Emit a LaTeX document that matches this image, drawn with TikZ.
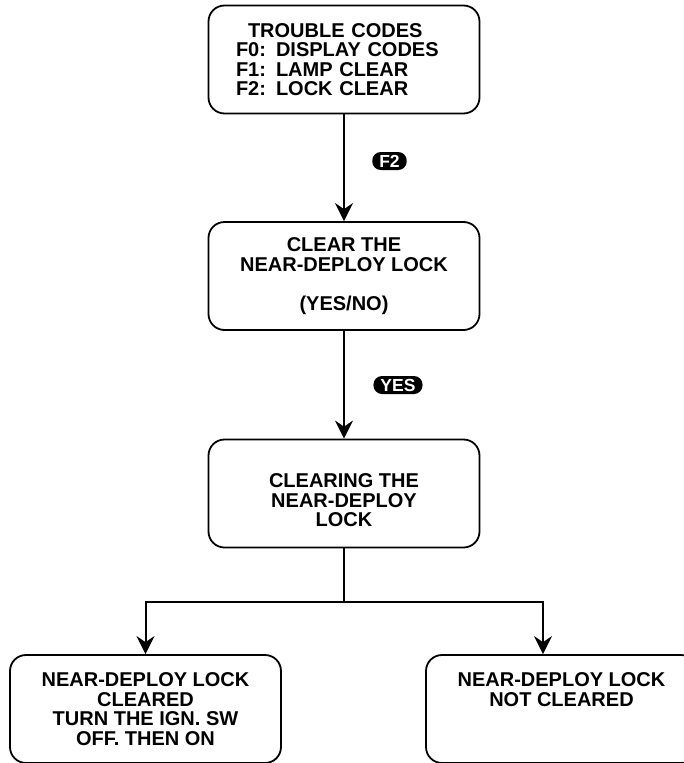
\documentclass[tikz,border=0pt]{standalone}
\usepackage{fontspec}
\setmainfont{Liberation Sans}
\usetikzlibrary{arrows.meta,positioning}

\begin{document}
\begin{tikzpicture}[x=1pt,y=-1pt,
    screen/.style={draw,line width=1.8pt,rounded corners=16pt,minimum width=271pt,
        minimum height=108pt,inner sep=0pt,align=center,
        font=\fontsize{20}{19.5}\selectfont\bfseries},
    keycap/.style={fill=black,text=white,rounded corners=8.5pt,inner xsep=7pt,inner ysep=0pt,
        minimum height=18pt,font=\fontsize{17.5}{17.5}\selectfont\bfseries},
    flow/.style={line width=2pt,-{Stealth[length=18pt,width=18pt,inset=6pt]}}]
    \useasboundingbox (0,0) rectangle (684,763);

    % Screens
    \node[screen,text width=216pt,align=left] (codes) at (344,59.5)
        {\hspace*{12pt}TROUBLE CODES\\F0: DISPLAY CODES\\F1: LAMP CLEAR\\F2: LOCK CLEAR};
    \node[screen] (ask) at (344,276) {CLEAR THE\\NEAR-DEPLOY LOCK\\[19.5pt](YES/NO)};
    \node[screen] (busy) at (344,493.5) {\rule{0pt}{28pt}CLEARING THE\\NEAR-DEPLOY\\LOCK};
    \node[screen] (done) at (145.5,709)
        {NEAR-DEPLOY LOCK\\CLEARED\\TURN THE IGN. SW\\OFF. THEN ON};
    \node[screen] (fail) at (561.5,709) {NEAR-DEPLOY LOCK\\NOT CLEARED\\~\\~};

    % Keys
    \node[keycap] (keyF2) at (389.5,161) {F2};
    \node[keycap] (keyYES) at (398,385) {YES};

    % Connectors
    \draw[flow] (codes) -- (ask);
    \draw[flow] (ask) -- (busy);
    \coordinate (split) at (344,602);
    \draw[line width=2pt] (busy) -- (split);
    \draw[flow] (split) -| (done.north);
    \draw[flow] (split) -| ([xshift=-18.5pt]fail.north);
\end{tikzpicture}
\end{document}
